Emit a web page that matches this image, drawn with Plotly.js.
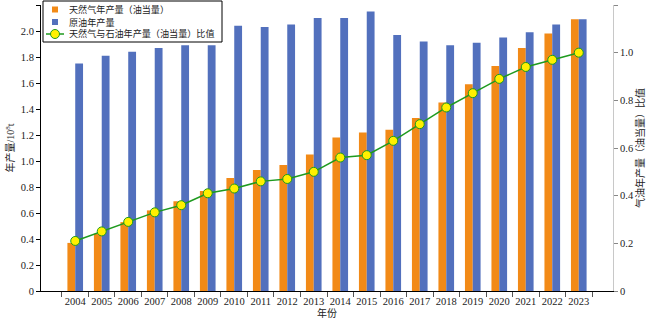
<!DOCTYPE html>
<html>
<head>
<meta charset="utf-8">
<script src="https://cdn.plot.ly/plotly-3.0.1.min.js"></script>
<style>html,body{margin:0;padding:0;background:#fff;}#chart{width:650px;height:322px;}</style>
</head>
<body>
<div id="chart"></div>
<script>
const years = ['2004','2005','2006','2007','2008','2009','2010','2011','2012','2013','2014','2015','2016','2017','2018','2019','2020','2021','2022','2023'];
const gasOutput = [0.37,0.44,0.53,0.62,0.69,0.77,0.87,0.93,0.97,1.05,1.18,1.22,1.24,1.33,1.45,1.59,1.73,1.87,1.98,2.09];
const oilOutput = [1.75,1.81,1.84,1.87,1.89,1.89,2.04,2.03,2.05,2.10,2.10,2.15,1.97,1.92,1.89,1.91,1.95,1.99,2.05,2.09];
const ratio = [0.21,0.25,0.29,0.33,0.36,0.41,0.43,0.46,0.47,0.50,0.56,0.57,0.63,0.70,0.77,0.83,0.89,0.94,0.97,1.00];
const leftTicks = [0,0.2,0.4,0.6,0.8,1.0,1.2,1.4,1.6,1.8,2.0,2.2];
const leftTickText = ['0','0.2','0.4','0.6','0.8','1.0','1.2','1.4','1.6','1.8','2.0','2.2'];
const rightTicks = [0,0.2,0.4,0.6,0.8,1.0,1.2];
const rightTickText = ['0','0.2','0.4','0.6','0.8','1.0','1.2'];
const names = ['天然气年产量（油当量）','原油年产量','天然气与石油年产量（油当量）比值'];

const font = "'Liberation Serif','Times New Roman','Noto Sans CJK SC',serif";
const gasColor = '#F28A17', oilColor = '#5270BD', lineColor = '#1E9A1E', markerColor = '#FFF000';

const traces = [
  {type:'bar', x:years, y:gasOutput, name:names[0], marker:{color:gasColor}, yaxis:'y'},
  {type:'bar', x:years, y:oilOutput, name:names[1], marker:{color:oilColor}, yaxis:'y'},
  {type:'scatter', mode:'lines+markers', x:years, y:ratio, name:names[2], yaxis:'y2',
   line:{color:lineColor, width:1.5},
   marker:{color:markerColor, size:9, line:{color:lineColor, width:1}}}
];

// custom compact legend (plot area: 41..613 px wide, 5..291 px tall)
const W = 572, H = 286;
const px = v => (v - 41) / W;
const py = v => (291 - v) / H;
const rows = [9.5, 22, 34];
const shapes = [
  {type:'rect', xref:'paper', yref:'paper', x0:px(43), x1:px(222), y0:py(42), y1:py(1),
   line:{color:'#000', width:1}, fillcolor:'#fff', layer:'above'},
  {type:'rect', xref:'paper', yref:'paper', x0:px(52), x1:px(58), y0:py(rows[0]+3), y1:py(rows[0]-3),
   line:{width:0}, fillcolor:gasColor, layer:'above'},
  {type:'rect', xref:'paper', yref:'paper', x0:px(52), x1:px(58), y0:py(rows[1]+3), y1:py(rows[1]-3),
   line:{width:0}, fillcolor:oilColor, layer:'above'},
  {type:'line', xref:'paper', yref:'paper', x0:px(46), x1:px(64), y0:py(rows[2]), y1:py(rows[2]),
   line:{color:lineColor, width:1.5}, layer:'above'},
  {type:'circle', xref:'paper', yref:'paper', x0:px(50.5), x1:px(59.5), y0:py(rows[2]+4.5), y1:py(rows[2]-4.5),
   line:{color:lineColor, width:1}, fillcolor:markerColor, layer:'above'}
];
const annotations = names.map((n, i) => ({
  xref:'paper', yref:'paper', x:px(67), y:py(rows[i]), xanchor:'left', yanchor:'middle',
  text:n, showarrow:false, font:{size:9.1, family:font, color:'#222'}
}));

const layout = {
  width:650, height:322,
  margin:{l:41, r:37, t:5, b:31},
  paper_bgcolor:'#fff', plot_bgcolor:'#fff',
  font:{family:font, size:10, color:'#222'},
  barmode:'group', bargap:0.41, bargroupgap:0,
  showlegend:false,
  shapes:shapes, annotations:annotations,
  xaxis:{type:'category', showline:true, linecolor:'#000', linewidth:1, ticks:'outside', tickson:'boundaries',
    ticklen:5, tickcolor:'#555', showgrid:false, tickfont:{size:10.5}, tickangle:0,
    title:{text:'年份', font:{size:10}, standoff:2}},
  yaxis:{range:[0,2.2], tickvals:leftTicks, ticktext:leftTickText, showline:true, linecolor:'#000', linewidth:1,
    ticks:'outside', ticklen:4, tickcolor:'#000', showgrid:false, zeroline:false, tickfont:{size:10.5},
    title:{text:'年产量/10<sup>8</sup>t', font:{size:10}, standoff:4}},
  yaxis2:{range:[0,1.2], tickvals:rightTicks, ticktext:rightTickText, overlaying:'y', side:'right',
    showline:true, linecolor:'#c8c8c8', linewidth:1, ticks:'outside', ticklen:4, tickcolor:'#888',
    showgrid:false, zeroline:false, tickfont:{size:10.5},
    title:{text:'气油年产量（油当量）比值', font:{size:10}, standoff:4}}
};

Plotly.newPlot('chart', traces, layout, {displayModeBar:false, staticPlot:true});
</script>
</body>
</html>
